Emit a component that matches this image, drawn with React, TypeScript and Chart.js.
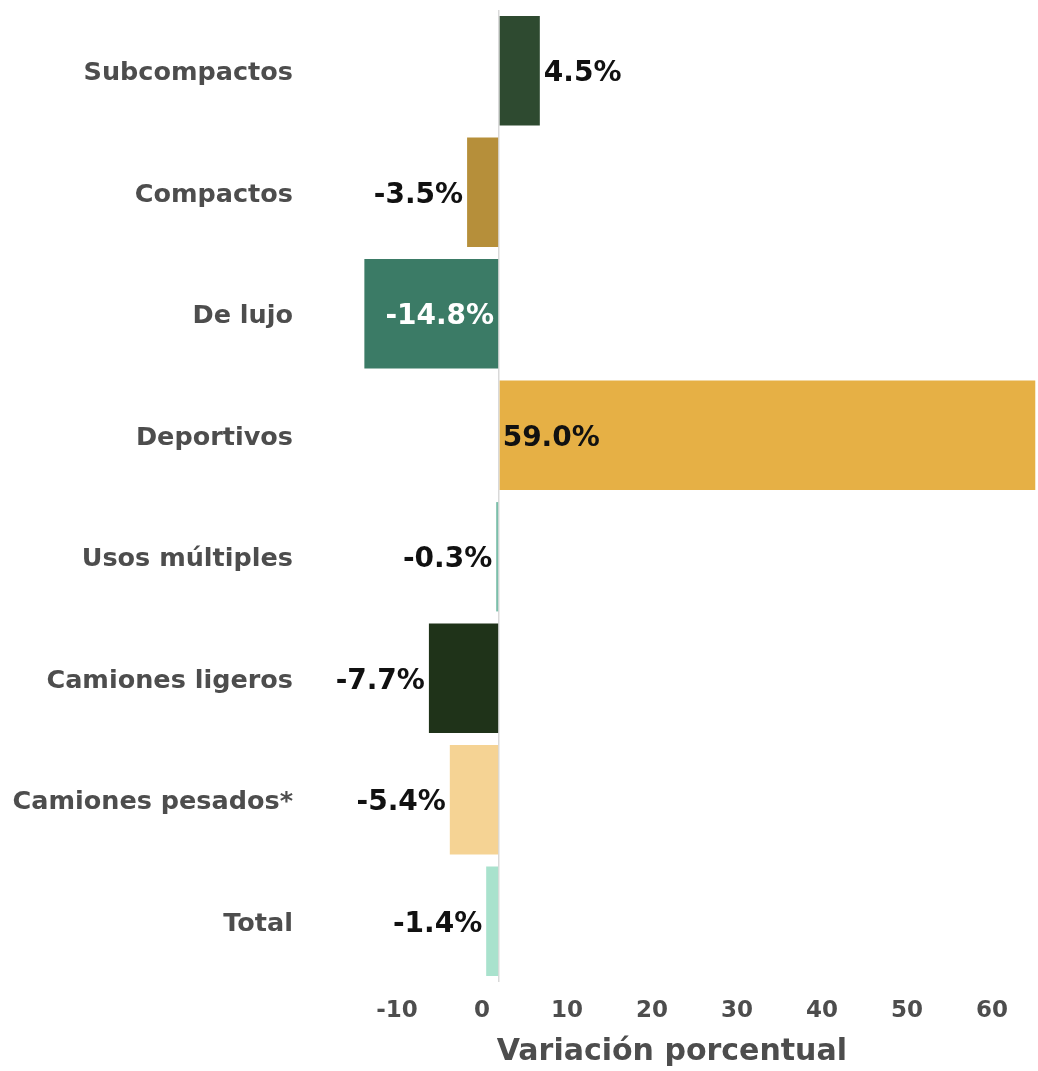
import React, { useEffect, useRef } from 'react';
import { Chart, registerables } from 'chart.js';

Chart.register(...registerables);

const categories = [
  'Subcompactos',
  'Compactos',
  'De lujo',
  'Deportivos',
  'Usos múltiples',
  'Camiones ligeros',
  'Camiones pesados*',
  'Total',
];
const values = [4.5, -3.5, -14.8, 59.0, -0.3, -7.7, -5.4, -1.4];
const barColors = [
  '#2e4a30',
  '#b68f3a',
  '#3b7b66',
  '#e6b045',
  '#7bbfaa',
  '#1f3319',
  '#f5d394',
  '#a9e2cd',
];
const tickValues = [-10, 0, 10, 20, 30, 40, 50, 60];
const axisTitle = 'Variación porcentual     ';

const FONT = '"DejaVu Sans", sans-serif';
const LABEL_GREY = '#4d4d4d';

function isDark(hex: string) {
  const r = parseInt(hex.slice(1, 3), 16);
  const g = parseInt(hex.slice(3, 5), 16);
  const b = parseInt(hex.slice(5, 7), 16);
  return 0.299 * r + 0.587 * g + 0.114 * b < 140;
}

const valueLabels = {
  id: 'valueLabels',
  afterDatasetsDraw(chart: any) {
    const ctx = chart.ctx;
    const meta = chart.getDatasetMeta(0);
    ctx.save();
    ctx.font = `bold 28px ${FONT}`;
    ctx.textBaseline = 'middle';
    meta.data.forEach((el: any, i: number) => {
      const v = values[i];
      const { x, y, base } = el.getProps(['x', 'y', 'base'], true);
      const text = v.toFixed(1) + '%';
      const inside = Math.abs(v) >= 10;
      let tx: number;
      let align: CanvasTextAlign;
      let color = '#111111';
      if (v >= 0) {
        align = 'left';
        tx = inside ? base + 3 : x + 4;
      } else {
        align = 'right';
        tx = inside ? base - 4 : x - 4;
      }
      if (inside && isDark(barColors[i])) color = '#ffffff';
      ctx.textAlign = align;
      ctx.fillStyle = color;
      ctx.fillText(text, tx, y + 3);
    });
    ctx.restore();
  },
};

export default function App() {
  const canvasRef = useRef<HTMLCanvasElement | null>(null);

  useEffect(() => {
    if (!canvasRef.current) return;
    const chart = new Chart(canvasRef.current, {
      type: 'bar',
      data: {
        labels: categories,
        datasets: [
          {
            data: values,
            backgroundColor: barColors,
            barPercentage: 0.9,
            categoryPercentage: 1,
            xAxisID: 'x',
            yAxisID: 'y',
          },
        ],
      },
      options: {
        indexAxis: 'y',
        responsive: false,
        animation: false,
        layout: { padding: { top: 10, right: 0, left: 0, bottom: 0 } },
        plugins: {
          legend: { display: false },
          tooltip: { enabled: false },
        },
        scales: {
          x: {
            type: 'linear',
            position: 'top',
            min: -15.5,
            max: 59.3,
            afterBuildTicks: (s: any) => {
              s.ticks = [{ value: 0 }];
            },
            ticks: { display: false },
            grid: { drawTicks: false, color: '#d9d9d9', lineWidth: 1.5 },
            border: { display: false },
            afterFit: (s: any) => {
              s.height = 0;
              s.paddingLeft = 0;
              s.paddingRight = 0;
            },
          },
          x2: {
            type: 'linear',
            position: 'bottom',
            min: -14.6,
            max: 65.4,
            afterBuildTicks: (s: any) => {
              s.ticks = tickValues.map((v) => ({ value: v }));
            },
            ticks: {
              font: { family: FONT, size: 23, weight: 'bold' },
              color: LABEL_GREY,
              padding: 15,
              autoSkip: false,
              maxRotation: 0,
            },
            grid: { display: false, drawTicks: false },
            border: { display: false },
            title: {
              display: true,
              text: axisTitle,
              font: { family: FONT, size: 30, weight: 'bold' },
              color: LABEL_GREY,
              padding: { top: 0, bottom: 1 },
            },
            afterFit: (s: any) => {
              s.height = 89;
              s.paddingLeft = 0;
              s.paddingRight = 0;
            },
          },
          y: {
            type: 'category',
            position: 'left',
            ticks: {
              font: { family: FONT, size: 25.5, weight: 'bold' },
              color: LABEL_GREY,
              padding: 65,
              labelOffset: 3,
            },
            grid: { display: false, drawTicks: false },
            border: { display: false },
            afterFit: (s: any) => {
              s.width = 358;
              s.paddingTop = 0;
              s.paddingBottom = 0;
            },
          },
        },
      } as any,
      plugins: [valueLabels],
    });
    return () => chart.destroy();
  }, []);

  return (
    <div style={{ position: 'fixed', left: 0, top: 0, width: 1038, height: 1071, background: '#ffffff' }}>
      <canvas ref={canvasRef} width={1038} height={1071} style={{ display: 'block' }} />
    </div>
  );
}
